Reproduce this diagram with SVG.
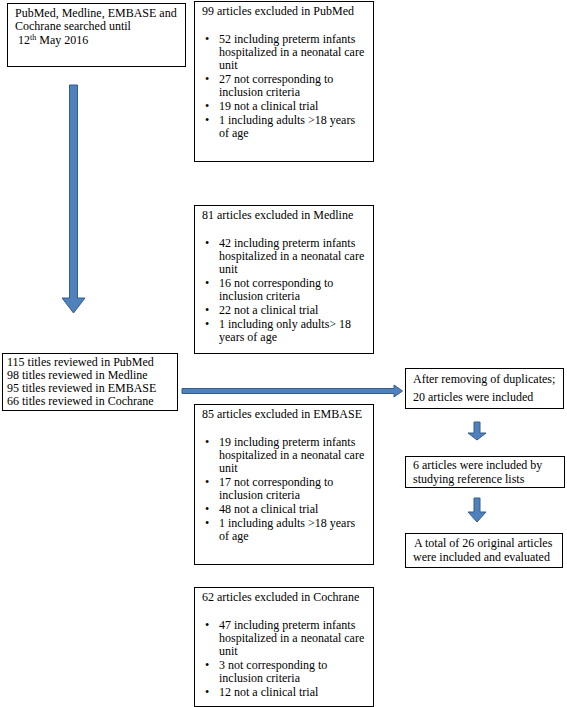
<svg xmlns="http://www.w3.org/2000/svg" width="567" height="707" viewBox="0 0 567 707">
<style>
.box{fill:#fff;stroke:#000;stroke-width:1}
text{font-family:"Liberation Serif","Times New Roman",serif;font-size:12px;fill:#000}
.arr{fill:#4F81BD;stroke:#385D8A;stroke-width:1}
</style>
<rect width="567" height="707" fill="#fff"/>
<g id="connectors">
<path class="arr" d="M69.5,85 H77.5 V298 H85 L73.5,313 L62,298 H69.5 Z"/>
<path class="arr" d="M182,388.5 H394 V385 L402.5,391 L394,397 V393.5 H182 Z"/>
<path class="arr" d="M474,422 H480 V433 H486 L477,440 L468,433 H474 Z"/>
<path class="arr" d="M474,498 H480 V512 H486 L477,522 L468,512 H474 Z"/>
</g>
<g id="search">
<rect class="box" x="7.5" y="3.5" width="178" height="63"/>
<text x="15" y="17">PubMed, Medline, EMBASE and</text>
<text x="15" y="30">Cochrane searched until</text>
<text x="18" y="44">12<tspan font-size="8" dy="-4">th</tspan><tspan dy="4"> May 2016</tspan></text>
</g>
<g id="pubmed">
<rect class="box" x="194.5" y="1.5" width="179" height="160"/>
<text x="202" y="15">99 articles excluded in PubMed</text>
<text x="205" y="43">•</text><text x="219" y="43">52 including preterm infants</text>
<text x="219" y="56">hospitalized in a neonatal care</text>
<text x="219" y="69">unit</text>
<text x="205" y="83">•</text><text x="219" y="83">27 not corresponding to</text>
<text x="219" y="96">inclusion criteria</text>
<text x="205" y="110">•</text><text x="219" y="110">19 not a clinical trial</text>
<text x="205" y="124">•</text><text x="219" y="124">1 including adults &gt;18 years</text>
<text x="219" y="137">of age</text>
</g>
<g id="medline">
<rect class="box" x="194.5" y="205.5" width="179" height="148"/>
<text x="202" y="219">81 articles excluded in Medline</text>
<text x="205" y="247">•</text><text x="219" y="247">42 including preterm infants</text>
<text x="219" y="260">hospitalized in a neonatal care</text>
<text x="219" y="273">unit</text>
<text x="205" y="287">•</text><text x="219" y="287">16 not corresponding to</text>
<text x="219" y="300">inclusion criteria</text>
<text x="205" y="314">•</text><text x="219" y="314">22 not a clinical trial</text>
<text x="205" y="328">•</text><text x="219" y="328">1 including only adults&gt; 18</text>
<text x="219" y="341">years of age</text>
</g>
<g id="titles">
<rect class="box" x="2.5" y="353.5" width="175" height="57"/>
<text x="7" y="366">115 titles reviewed in PubMed</text>
<text x="7" y="379">98 titles reviewed in Medline</text>
<text x="7" y="392">95 titles reviewed in EMBASE</text>
<text x="7" y="405">66 titles reviewed in Cochrane</text>
</g>
<g id="embase">
<rect class="box" x="194.5" y="404.5" width="179" height="160"/>
<text x="202" y="418">85 articles excluded in EMBASE</text>
<text x="205" y="446">•</text><text x="219" y="446">19 including preterm infants</text>
<text x="219" y="459">hospitalized in a neonatal care</text>
<text x="219" y="472">unit</text>
<text x="205" y="486">•</text><text x="219" y="486">17 not corresponding to</text>
<text x="219" y="499">inclusion criteria</text>
<text x="205" y="513">•</text><text x="219" y="513">48 not a clinical trial</text>
<text x="205" y="527">•</text><text x="219" y="527">1 including adults &gt;18 years</text>
<text x="219" y="540">of age</text>
</g>
<g id="cochrane">
<rect class="box" x="194.5" y="587.5" width="179" height="119"/>
<text x="202" y="601">62 articles excluded in Cochrane</text>
<text x="205" y="629">•</text><text x="219" y="629">47 including preterm infants</text>
<text x="219" y="642">hospitalized in a neonatal care</text>
<text x="219" y="655">unit</text>
<text x="205" y="669">•</text><text x="219" y="669">3 not corresponding to</text>
<text x="219" y="682">inclusion criteria</text>
<text x="205" y="696">•</text><text x="219" y="696">12 not a clinical trial</text>
</g>
<g id="duplicates">
<rect class="box" x="405.5" y="368.5" width="158" height="40"/>
<text x="413" y="383">After removing of duplicates;</text>
<text x="413" y="401">20 articles were included</text>
</g>
<g id="reflists">
<rect class="box" x="405.5" y="456.5" width="159" height="31"/>
<text x="413" y="469">6 articles were included by</text>
<text x="413" y="483">studying reference lists</text>
</g>
<g id="total">
<rect class="box" x="405.5" y="533.5" width="157" height="34"/>
<text x="414" y="547">A total of 26 original articles</text>
<text x="413" y="561">were included and evaluated</text>
</g>
</svg>
